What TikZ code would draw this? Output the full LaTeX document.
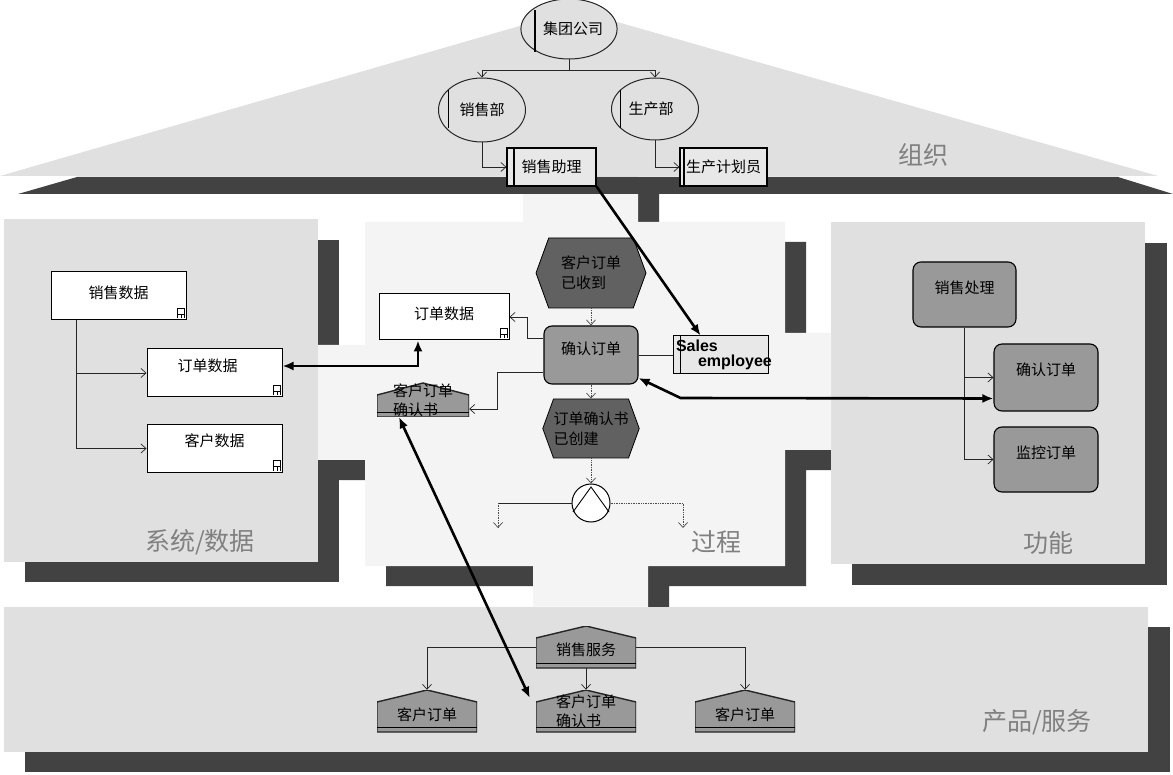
\documentclass[tikz,border=0pt]{standalone}
\usepackage{fontspec}
\newfontfamily\cjk{Noto Sans CJK SC}
\newfontfamily\sansb{Liberation Sans}
\usetikzlibrary{shapes.geometric,shapes.symbols,arrows.meta,calc}
\definecolor{panelc}{gray}{0.88}
\definecolor{procc}{gray}{0.955}
\definecolor{darkc}{gray}{0.26}
\definecolor{evc}{gray}{0.38}
\definecolor{funcc}{gray}{0.6}
\definecolor{housec}{gray}{0.6}
\definecolor{lblc}{gray}{0.5}
\definecolor{orgc}{gray}{0.91}
\newcommand\mylift[2]{\raisebox{#1}[\height][\depth]{#2}}
\tikzset{
  procshape/.style={insert path={(523,174) -- (638,174) -- (638,222) -- (785,222) -- (785,333) -- (831,333) -- (831,450) -- (785,450) -- (785,566) -- (648,566) -- (648,607) -- (533,607) -- (533,566) -- (365,566) -- (365,460) -- (318,460) -- (318,345) -- (365,345) -- (365,222) -- (523,222) -- cycle}},
  lbl/.style={font=\cjk\fontsize{25}{30}\selectfont, text=lblc, inner sep=0pt},
  orgell/.style={ellipse, draw=black!85, line width=1pt, fill=panelc, inner sep=0pt},
  orgbox/.style={rectangle, draw=black, line width=1.2pt, fill=orgc, inner sep=0pt},
  databox/.style={rectangle, draw=black, line width=1pt, fill=white, inner sep=0pt},
  funcbox/.style={rectangle, rounded corners=8pt, draw=black, line width=1.1pt, fill=funcc, inner sep=0pt},
  event/.style={signal, signal to=east and west, signal pointer angle=140, draw=black, line width=0.8pt, fill=evc, inner sep=0pt, align=left},
  house/.style={rectangle, inner sep=0pt, minimum width=100pt, minimum height=42pt,
    path picture={
      \draw[fill=housec, line width=1.4pt, draw=black!85] (path picture bounding box.south west) -- ([yshift=-12pt]path picture bounding box.north west) -- (path picture bounding box.north) -- ([yshift=-12pt]path picture bounding box.north east) -- (path picture bounding box.south east) -- cycle;
      \draw[line width=0.8pt] ([yshift=5pt]path picture bounding box.south west) -- ([yshift=5pt]path picture bounding box.south east);
    }},
  sebox/.style={rectangle, draw=black, line width=1pt, fill=orgc, inner sep=0pt},
  conn/.style={draw=black!85, line width=0.7pt, -{Straight Barb[length=5pt,width=9pt]}},
  dotconn/.style={conn, densely dotted, draw=black!70},
  thickarr/.style={line width=2.6pt, -{Latex[length=11pt,width=9pt]}},
  thickboth/.style={line width=2.6pt, {Latex[length=11pt,width=9pt]}-{Latex[length=11pt,width=9pt]}}
}
\newcommand\dbicon[1]{%
  \draw[line width=0.6pt] ([shift={(-9pt,2pt)}]#1.south east) -- ++(0pt,10pt) -- ++(7pt,0pt) -- ++(0pt,-10pt);
  \draw[line width=0.6pt] ([shift={(-9pt,6pt)}]#1.south east) -- ++(7pt,0pt);
  \draw[line width=0.6pt] ([shift={(-5.5pt,2pt)}]#1.south east) -- ++(0pt,4pt);}
\begin{document}
\begin{tikzpicture}[x=1pt,y=-1pt, font=\cjk\fontsize{15}{20}\selectfont]
\useasboundingbox (0,0) rectangle (1173,775);
\fill[white] (0,0) rectangle (1173,775);
% shadows
\fill[darkc] (25,240) rectangle (339,582);
\fill[darkc] (852,243) rectangle (1167,585);
\fill[darkc] (25,627) rectangle (1170,772);
\begin{scope}[shift={(21,20)}]
  \fill[darkc, procshape];
\end{scope}
% panels
\fill[panelc] (4,219) rectangle (318,562);
\fill[panelc] (831,222) rectangle (1145,564);
\fill[panelc] (4,607) rectangle (1148,752);
\fill[procc, procshape];
% roof
\fill[panelc] (0,176) -- (575,10) -- (1158,176) -- cycle;
\fill[darkc] (77,177) -- (1118,177) -- (1173,194) -- (18,194) -- cycle;
% labels
\node[lbl] (lorg) at (923,155) {组织};
\node[lbl] (lsys) at (200,542) {系统/数据};
\node[lbl] (lproc) at (716,542) {过程};
\node[lbl] (lfun) at (1048,543) {功能};
\node[lbl] (lprod) at (1037,722) {产品/服务};
% organisation
\node[orgell, minimum width=87pt, minimum height=60pt] (jt) at (569,29) {\hspace*{8pt}集团公司};
\draw[line width=1.2pt] (535,10) -- (535,52);
\node[orgell, minimum width=87pt, minimum height=64pt] (xsb) at (482,110) {销售部};
\draw[line width=0.8pt] (448,90) -- (448,128);
\node[orgell, minimum width=87pt, minimum height=62pt] (scb) at (655,109) {生产部\hspace*{8pt}};
\draw[line width=0.8pt] (620,90) -- (620,128);
\node[orgbox, minimum width=89pt, minimum height=38pt] (xszl) at (551.5,167) {销售助理};
\draw[line width=1.2pt] (514,148) -- (514,186);
\node[orgbox, minimum width=87pt, minimum height=38pt] (scjh) at (723.5,167) {生产计划员};
\draw[line width=1.2pt] (684,148) -- (684,186);
\draw[conn] (jt.south) -- ++(0,11) -| (xsb.north);
\draw[conn] (jt.south) -- ++(0,11) -| (scb.north);
\draw[conn] (xsb.south) |- (xszl.west);
\draw[conn] (scb.south) |- (scjh.west);
% data
\node[databox, minimum width=135pt, minimum height=48pt] (xssj) at (118.5,296) {\mylift{3pt}{销售数据}};
\node[databox, minimum width=135pt, minimum height=48pt] (ddsj1) at (214.5,373) {\mylift{7pt}{订单数据}\hspace*{14pt}};
\node[databox, minimum width=135pt, minimum height=47pt] (khsj) at (214.5,448.5) {\mylift{8pt}{客户数据}};
\dbicon{xssj}
\dbicon{ddsj1}
\dbicon{khsj}
\draw[conn] ([xshift=26pt]xssj.south west) |- (ddsj1.west);
\draw[conn] ([xshift=26pt]xssj.south west) |- (khsj.west);
% process
\node[event, minimum width=110pt, minimum height=70pt] (ev1) at (591,273) {客户订单\\已收到};
\node[funcbox, minimum width=94pt, minimum height=58pt] (qrdd) at (591,355) {\mylift{6pt}{确认订单}};
\node[event, minimum width=94pt, minimum height=59pt] (ev2) at (591,428.5) {订单确认书\\已创建};
\node[circle, draw=black, fill=white, line width=1pt, minimum size=38pt, inner sep=0pt] (andc) at (591,503) {};
\draw[line width=0.9pt] (andc.center) ++(-18,9) -- ++(18,-25) -- ++(18,25);
\node[databox, minimum width=130pt, minimum height=46pt] (ddsj2) at (444,317) {\mylift{3pt}{订单数据}};
\dbicon{ddsj2}
\node[house, minimum width=92pt, minimum height=34pt, align=left, font=\cjk\fontsize{15}{19}\selectfont] (khqr1) at (423,400) {客户订单\\确认书};
\node[sebox, minimum width=95pt, minimum height=38pt, text width=89pt, inner xsep=3pt, align=left, font=\sansb\bfseries\fontsize{16}{15}\selectfont] (se) at (720.5,355) {Sales\\\hspace*{22pt}\makebox[0pt][l]{employee}};
\draw[line width=1pt] (680,336) -- (680,374);
\coordinate (outL) at (498,528);
\coordinate (outR) at (683,528);
\draw[dotconn] (ev1.south) -- (qrdd.north);
\draw[dotconn] (qrdd.south) -- (ev2.north);
\draw[dotconn] (ev2.south) -- (andc.north);
\draw[black!85, line width=0.7pt] (andc.west) -- (andc.west -| outL);
\draw[dotconn] (andc.west -| outL) -- (outL);
\draw[dotconn] (andc.east) -| (outR);
\draw[black!85, line width=0.9pt] (qrdd.east) -- (se.west);
\draw[conn] ([yshift=17pt]qrdd.west) -- ++(-16,0) |- (ddsj2.east);
\draw[conn] ([yshift=-17pt]qrdd.west) -- ++(-46,0) |- ([yshift=-9pt]khqr1.east);
% function
\node[funcbox, minimum width=103pt, minimum height=65pt] (xscl) at (964.5,294.5) {\mylift{7pt}{销售处理}};
\node[funcbox, minimum width=104pt, minimum height=67pt] (qrdd2) at (1046,377.5) {\mylift{8pt}{确认订单}};
\node[funcbox, minimum width=104pt, minimum height=65pt] (jkdd) at (1046,459.5) {\mylift{7pt}{监控订单}};
\draw[conn] (xscl.south) |- (qrdd2.west);
\draw[conn] (xscl.south) |- (jkdd.west);
% products
\node[house] (xsfw) at (586,647) {\mylift{-3pt}{销售服务}};
\node[house] (kd1) at (427,711) {\mylift{-4pt}{客户订单}};
\node[house, align=left, font=\cjk\fontsize{15}{19}\selectfont] (khqr2) at (586,711) {客户订单\\确认书};
\node[house] (kd2) at (745,711) {\mylift{-4pt}{客户订单}};
\draw[conn] (xsfw.west) -| (kd1.north);
\draw[conn] (xsfw.east) -| (kd2.north);
\draw[conn] (xsfw.south) -- (khqr2.north);
% thick relations
\draw[thickarr] (xszl.south east) -- ([xshift=-20pt]se.north);
\draw[thickboth] ([yshift=7pt]ddsj1.east) -| ([xshift=-26pt]ddsj2.south);
\draw[thickboth] ([yshift=-23pt]qrdd.east) -- ++(42,20) -- ([yshift=-21pt]qrdd2.west);
\draw[thickboth] ([xshift=-24pt]khqr1.south) -- ([shift={(-6pt,-8pt)}]khqr2.north west);
\end{tikzpicture}
\end{document}
